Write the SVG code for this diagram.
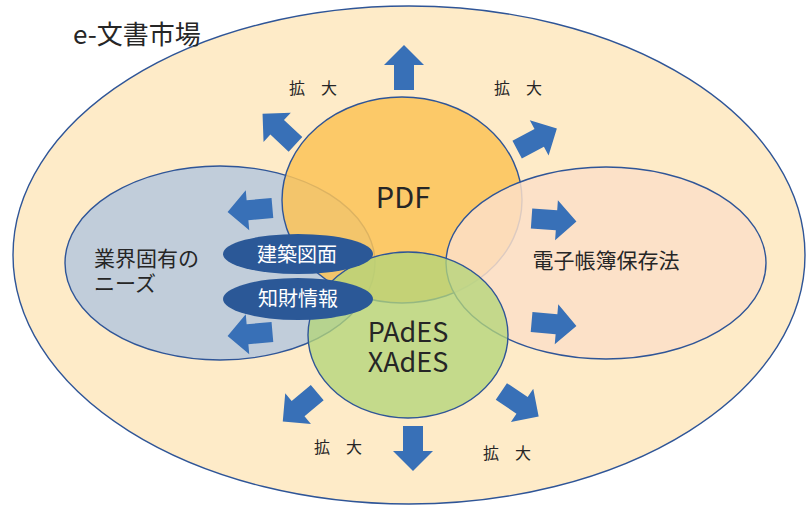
<svg xmlns="http://www.w3.org/2000/svg" xmlns:xlink="http://www.w3.org/1999/xlink" width="808" height="506" viewBox="0 0 808 506">
<style>
.ln{stroke:#2F5597;stroke-width:1.4}
.t{font-family:"Noto Sans CJK JP","Noto Sans",sans-serif;fill:#262626}
.w{font-family:"Noto Sans CJK JP","Noto Sans",sans-serif;fill:#ffffff}
.arr{fill:#3870B7}
.lab{fill:#2B5897}
</style>
<defs>
<polygon id="arr" points="0,-22.5 20,-2.5 10,-2.5 10,22.5 -10,22.5 -10,-2.5 -20,-2.5"/>
</defs>
<rect width="808" height="506" fill="#ffffff"/>
<g id="market">
<ellipse class="ln" cx="409" cy="255" rx="396" ry="249" fill="#FEEBC8"/>
<text class="t" x="73" y="44" font-size="26">e-文書市場</text>
</g>
<g id="industry">
<ellipse class="ln" cx="220" cy="263" rx="155" ry="97" fill="#C1CDDA"/>
<text class="t" x="94" y="266" font-size="21">業界固有の</text>
<text class="t" x="94" y="291" font-size="21">ニーズ</text>
</g>
<g id="pdf">
<ellipse class="ln" cx="402" cy="200" rx="120" ry="103" fill="#FCC357" fill-opacity="0.85"/>
<text class="t" x="403" y="208" font-size="29" text-anchor="middle">PDF</text>
</g>
<g id="denshi">
<ellipse class="ln" cx="606" cy="263" rx="160" ry="96" fill="#FCDFC8" fill-opacity="0.85"/>
<text class="t" x="606" y="268" font-size="21" text-anchor="middle">電子帳簿保存法</text>
</g>
<g id="pades">
<ellipse class="ln" cx="408" cy="335" rx="100" ry="83" fill="#B3D57A" fill-opacity="0.78"/>
<text class="t" x="408" y="342" font-size="27" text-anchor="middle">PAdES</text>
<text class="t" x="408" y="372" font-size="27" text-anchor="middle">XAdES</text>
</g>
<g id="kenchiku">
<ellipse class="lab" cx="298" cy="254" rx="75" ry="20"/>
<text class="w" x="297" y="262" font-size="20" text-anchor="middle">建築図面</text>
</g>
<g id="chizai">
<ellipse class="lab" cx="298" cy="299" rx="75" ry="21"/>
<text class="w" x="298" y="306" font-size="20" text-anchor="middle">知財情報</text>
</g>
<g id="connectors">
<use xlink:href="#arr" class="arr" transform="translate(404,67.5)"/>
<use xlink:href="#arr" class="arr" transform="translate(279,129) rotate(-47)"/>
<use xlink:href="#arr" class="arr" transform="translate(537,139) rotate(62)"/>
<use xlink:href="#arr" class="arr" transform="translate(250,210) rotate(-95)"/>
<use xlink:href="#arr" class="arr" transform="translate(250,334) rotate(-95)"/>
<use xlink:href="#arr" class="arr" transform="translate(554,220) rotate(94)"/>
<use xlink:href="#arr" class="arr" transform="translate(554,324) rotate(95)"/>
<use xlink:href="#arr" class="arr" transform="translate(300,407) rotate(-130)"/>
<use xlink:href="#arr" class="arr" transform="translate(413,448.5) rotate(180)"/>
<use xlink:href="#arr" class="arr" transform="translate(520,404) rotate(124)"/>
</g>
<g id="labels">
<text class="t" x="313" y="94" font-size="16" text-anchor="middle">拡　大</text>
<text class="t" x="518" y="94" font-size="16" text-anchor="middle">拡　大</text>
<text class="t" x="338" y="453" font-size="16" text-anchor="middle">拡　大</text>
<text class="t" x="507" y="459" font-size="16" text-anchor="middle">拡　大</text>
</g>
</svg>
